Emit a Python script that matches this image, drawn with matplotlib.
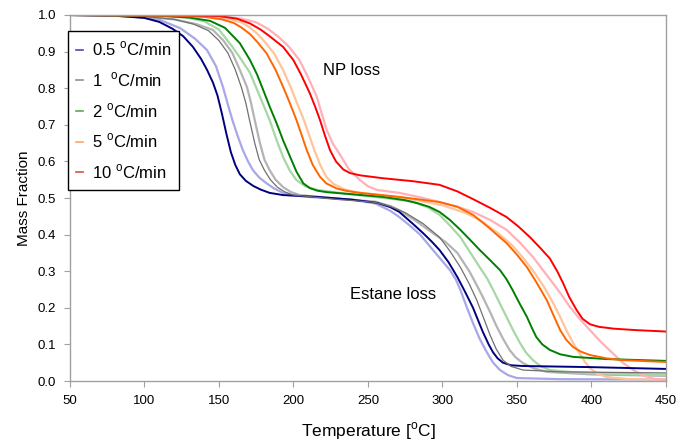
import matplotlib
matplotlib.use("Agg")
import matplotlib.pyplot as plt
from matplotlib.lines import Line2D

plt.rcParams['font.family'] = ['Liberation Sans', 'DejaVu Sans']
plt.rcParams['mathtext.fontset'] = 'custom'
plt.rcParams['mathtext.rm'] = 'Liberation Sans'

# heating rates shown in the legend
rates = ["0.5", "1 ", "2", "5", "10"]

# 0.5 C/min  (model = dark line, exp = light line)
t_b_mod = [50, 80, 100, 110, 119, 126, 132.5, 138, 142, 146, 149, 152, 155, 158, 161, 164, 168, 173,
           178, 184, 193, 216, 238, 256, 265, 271, 280, 287, 293, 298, 304, 310, 315, 320.5, 324, 327,
           331, 334, 337, 340.6, 346, 354, 399, 450]
m_b_mod = [1.0, 0.998, 0.992, 0.981, 0.962, 0.942, 0.913, 0.88, 0.85, 0.815, 0.78, 0.73, 0.675, 0.625,
           0.59, 0.565, 0.547, 0.533, 0.523, 0.514, 0.508, 0.503, 0.496, 0.487, 0.475, 0.462, 0.43,
           0.404, 0.38, 0.358, 0.325, 0.284, 0.245, 0.2, 0.165, 0.135, 0.1, 0.078, 0.062, 0.05, 0.043,
           0.041, 0.038, 0.033]
t_b_exp = [50, 90, 110, 124, 134, 142, 148, 152.7, 156, 159, 162.5, 166, 169.5, 172.8, 177, 182, 187,
           193, 200, 210, 240, 255, 265, 271, 278, 285, 293.6, 299, 305, 309, 312, 316, 320.5, 325, 330,
           334, 338.6, 344, 350, 380, 450]
m_b_exp = [1.0, 0.997, 0.987, 0.964, 0.935, 0.904, 0.86, 0.803, 0.755, 0.713, 0.67, 0.631, 0.6, 0.576,
           0.556, 0.54, 0.526, 0.514, 0.507, 0.503, 0.495, 0.485, 0.465, 0.448, 0.425, 0.40, 0.358,
           0.332, 0.303, 0.277, 0.249, 0.205, 0.158, 0.115, 0.077, 0.05, 0.03, 0.016, 0.008, 0.005, 0.004]

# 1 C/min
t_g_mod = [50, 100, 120, 133, 143, 150, 156, 161, 165, 168, 170.5, 174, 177, 180.5, 184.5, 189, 194,
           200, 230, 255, 265, 275, 287, 298, 305, 312, 318, 323, 328, 332, 336, 340.6, 346, 354, 380, 450]
m_g_mod = [1.0, 0.996, 0.988, 0.975, 0.957, 0.93, 0.896, 0.85, 0.803, 0.76, 0.713, 0.65, 0.605, 0.576,
           0.55, 0.53, 0.517, 0.508, 0.496, 0.488, 0.477, 0.46, 0.43, 0.393, 0.355, 0.311, 0.265, 0.221,
           0.168, 0.125, 0.088, 0.057, 0.04, 0.03, 0.025, 0.022]
t_g_exp = [50, 100, 120, 135, 146, 153, 159, 164, 168.8, 171.5, 174, 177.5, 180.5, 184, 188, 193, 198,
           204, 230, 255, 265, 271, 283, 293.6, 302, 310, 318, 323, 327, 332, 336.5, 341, 345, 349, 354,
           361, 370, 400, 450]
m_g_exp = [1.0, 0.996, 0.988, 0.975, 0.959, 0.93, 0.896, 0.85, 0.803, 0.76, 0.713, 0.65, 0.605, 0.576,
           0.55, 0.53, 0.517, 0.508, 0.498, 0.49, 0.478, 0.467, 0.435, 0.404, 0.38, 0.35, 0.3, 0.262,
           0.23, 0.188, 0.148, 0.113, 0.085, 0.065, 0.049, 0.035, 0.025, 0.018, 0.014]

# 2 C/min
t_gr_mod = [50, 110, 130, 144, 154, 164, 170.8, 175.5, 179.7, 184, 188.7, 193, 197.7, 202, 206.6, 211,
            216, 222.3, 240, 260, 275, 283, 291, 298, 305, 312, 318, 325, 332, 338.6, 343, 347, 352,
            356.7, 360, 363, 367, 372, 379, 387.6, 410, 450]
m_gr_mod = [1.0, 0.998, 0.993, 0.984, 0.965, 0.923, 0.877, 0.838, 0.795, 0.75, 0.704, 0.658, 0.613,
            0.572, 0.54, 0.527, 0.52, 0.516, 0.51, 0.503, 0.494, 0.486, 0.476, 0.462, 0.44, 0.413,
            0.388, 0.358, 0.33, 0.303, 0.278, 0.249, 0.21, 0.175, 0.145, 0.12, 0.1, 0.085, 0.073, 0.066,
            0.06, 0.055]
t_gr_exp = [50, 110, 128, 140, 150, 159, 165, 170.8, 177.5, 184, 188.5, 193, 197.5, 202, 208, 216, 235,
            250, 265, 280, 290, 298, 305, 312, 318, 325, 330, 334, 338.5, 343, 347.5, 352, 356, 360.7,
            366, 372, 385, 399, 450]
m_gr_exp = [1.0, 0.998, 0.993, 0.983, 0.96, 0.913, 0.878, 0.842, 0.777, 0.713, 0.66, 0.612, 0.575,
            0.549, 0.532, 0.522, 0.512, 0.505, 0.498, 0.49, 0.475, 0.454, 0.425, 0.393, 0.355, 0.311,
            0.28, 0.249, 0.212, 0.175, 0.138, 0.104, 0.078, 0.057, 0.04, 0.03, 0.025, 0.022, 0.016]

# 5 C/min
t_o_mod = [50, 120, 140, 152, 160, 165, 170.8, 176, 182, 188, 193, 197.5, 202, 205.5, 208.9, 213, 217.8,
           222, 229, 236, 244.6, 271, 298, 310, 320.5, 330, 337, 343, 350, 356.7, 363, 370, 375, 379,
           383, 387.6, 393, 399, 410, 421, 450]
m_o_mod = [1.0, 0.998, 0.995, 0.988, 0.978, 0.966, 0.948, 0.925, 0.895, 0.85, 0.804, 0.76, 0.713, 0.672,
           0.631, 0.59, 0.558, 0.54, 0.526, 0.519, 0.514, 0.503, 0.489, 0.476, 0.454, 0.423, 0.398,
           0.377, 0.345, 0.311, 0.27, 0.221, 0.175, 0.139, 0.113, 0.093, 0.08, 0.071, 0.062, 0.057, 0.052]
t_o_exp = [50, 120, 145, 158, 165, 170, 176, 181, 187, 193, 198, 202.5, 207, 210.5, 214, 218, 222, 227,
           234, 242, 250, 275, 300, 315, 325, 337, 347, 354, 361, 368, 374, 379, 383, 387.5, 392, 396,
           399, 404, 410, 425, 450]
m_o_exp = [1.0, 0.998, 0.995, 0.988, 0.98, 0.968, 0.948, 0.925, 0.895, 0.85, 0.804, 0.758, 0.713, 0.672,
           0.631, 0.59, 0.558, 0.538, 0.524, 0.516, 0.512, 0.5, 0.48, 0.46, 0.44, 0.405, 0.37, 0.337,
           0.3, 0.258, 0.215, 0.175, 0.14, 0.105, 0.075, 0.05, 0.035, 0.02, 0.011, 0.005, 0.004]

# 10 C/min
t_r_mod = [50, 130, 150, 162, 170.8, 178, 184, 193, 199.9, 205, 211, 214.5, 217.8, 221, 224.5, 228.5,
           233.4, 238, 244.6, 260, 280, 298, 310, 320.5, 332, 343, 351, 358.7, 366, 372, 377, 380.9,
           385, 390, 394, 399, 405, 415, 430, 446, 450]
m_r_mod = [1.0, 0.999, 0.997, 0.99, 0.977, 0.96, 0.942, 0.913, 0.877, 0.838, 0.786, 0.75, 0.713, 0.672,
           0.631, 0.6, 0.578, 0.568, 0.562, 0.554, 0.546, 0.536, 0.518, 0.497, 0.473, 0.448, 0.422,
           0.393, 0.362, 0.335, 0.3, 0.268, 0.23, 0.194, 0.17, 0.155, 0.148, 0.143, 0.139, 0.136, 0.135]
t_r_exp = [50, 130, 150, 165, 175, 183, 190, 197, 204, 210, 215.6, 219, 222.3, 226.5, 231, 237, 244.6,
           250, 256, 271, 285, 298, 310, 320.5, 332, 343, 352, 360.7, 368, 374, 380, 385.6, 392, 399,
           406, 414, 421, 428, 435, 442, 450]
m_r_exp = [1.0, 0.999, 0.997, 0.99, 0.98, 0.962, 0.94, 0.913, 0.877, 0.828, 0.777, 0.73, 0.686, 0.648,
           0.62, 0.58, 0.549, 0.532, 0.522, 0.514, 0.502, 0.489, 0.476, 0.462, 0.44, 0.413, 0.378,
           0.339, 0.3, 0.268, 0.235, 0.202, 0.17, 0.139, 0.108, 0.077, 0.05, 0.03, 0.015, 0.006, 0.003]

fig = plt.figure(figsize=(6.82, 4.45), dpi=100)
ax = fig.add_axes([0.1026, 0.1438, 0.8739, 0.8225])

# experimental curves (light) first, model curves (dark) on top
ax.plot(t_b_exp, m_b_exp, color='#a8a8e8', lw=1.6)
ax.plot(t_g_exp, m_g_exp, color='#b4b4b4', lw=1.6)
ax.plot(t_gr_exp, m_gr_exp, color='#a6d8a6', lw=1.6)
ax.plot(t_o_exp, m_o_exp, color='#ffc49a', lw=1.6)
ax.plot(t_r_exp, m_r_exp, color='#ffb0b8', lw=1.6)

ax.plot(t_b_mod, m_b_mod, color='#000080', lw=1.4)
ax.plot(t_g_mod, m_g_mod, color='#707070', lw=0.9)
ax.plot(t_gr_mod, m_gr_mod, color='#008000', lw=1.4)
ax.plot(t_o_mod, m_o_mod, color='#ff6600', lw=1.4)
ax.plot(t_r_mod, m_r_mod, color='#ff0000', lw=1.4)

ax.set_xlim(50, 450)
ax.set_ylim(0, 1.0)
ax.set_xticks(range(50, 451, 50))
ax.set_yticks([i / 10 for i in range(11)])
ax.set_yticklabels([f"{i / 10:.1f}" for i in range(11)])
for s in ax.spines.values():
    s.set_color('#a0a0a0')
    s.set_linewidth(1.0)
ax.tick_params(direction='out', length=4, color='#a0a0a0', labelsize=9.5, pad=6)

ax.set_xlabel("Temperature [$^{\\mathrm{o}}$C]", fontsize=12.5, labelpad=10)
ax.set_ylabel("Mass Fraction", fontsize=11, labelpad=5)

ax.text(239, 0.847, "NP loss", fontsize=12, ha='center', va='center')
ax.text(267, 0.235, "Estane loss", fontsize=12, ha='center', va='center')

leg_colors = ['#4848b8', '#909090', '#50b050', '#ffa468', '#e84848']
handles = [Line2D([], [], color=c, lw=1.2) for c in leg_colors]
labels = [f"{r} $^{{\\mathrm{{o}}}}$C/min" for r in rates]
leg = ax.legend(handles, labels, loc='upper left', bbox_to_anchor=(-0.004, 0.955),
                fontsize=12, handlelength=0.45, handletextpad=0.5, labelspacing=0.72,
                borderpad=0.5, borderaxespad=0, fancybox=False, framealpha=1)
leg.get_frame().set_edgecolor('black')
leg.get_frame().set_linewidth(1.0)

fig.savefig("out.png", dpi=100)
